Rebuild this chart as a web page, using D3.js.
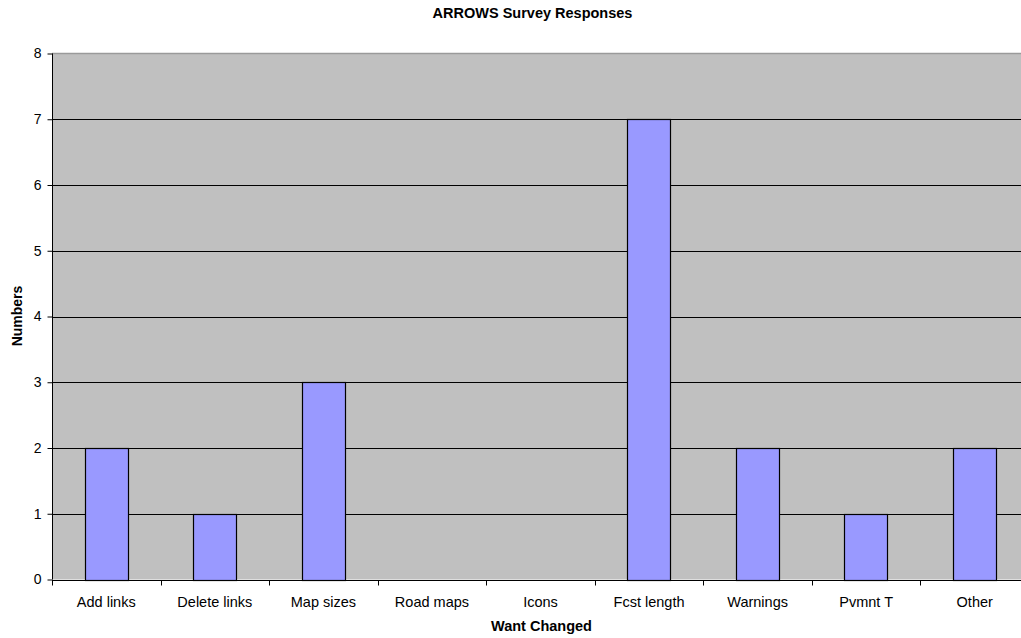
<!DOCTYPE html>
<html>
<head>
<meta charset="utf-8">
<script src="https://cdn.jsdelivr.net/npm/d3@7"></script>
<style>
  html, body { margin: 0; padding: 0; background: #fff; overflow: hidden; }
  svg { display: block; font-family: "Liberation Sans", Arial, sans-serif; }
</style>
</head>
<body>
<svg id="chart" width="1021" height="638"></svg>
<script>
// Survey responses: what users want changed
const categories = ["Add links", "Delete links", "Map sizes", "Road maps", "Icons", "Fcst length", "Warnings", "Pvmnt T", "Other"];
const counts = [2, 1, 3, 0, 0, 7, 2, 1, 2];
const yTicks = [0, 1, 2, 3, 4, 5, 6, 7, 8];

const svg = d3.select("#chart");
const plotLeft = 52, plotRight = 1029, plotTop = 53.5, plotBottom = 579.5;

const x = d3.scaleBand().domain(categories).range([plotLeft, plotRight]).paddingInner(0).paddingOuter(0);
const y = d3.scaleLinear().domain([0, 8]).range([plotBottom, plotTop]);

// plot background
svg.append("rect")
  .attr("x", plotLeft).attr("y", plotTop)
  .attr("width", plotRight - plotLeft).attr("height", plotBottom - plotTop)
  .attr("fill", "#c0c0c0");
svg.append("line")
  .attr("x1", plotLeft).attr("x2", plotRight).attr("y1", plotTop).attr("y2", plotTop)
  .attr("stroke", "#9a9a9a").attr("stroke-width", 1.5);

// horizontal gridlines
svg.append("g").selectAll("line")
  .data(yTicks.filter(d => d > 0 && d < 8))
  .join("line")
  .attr("x1", plotLeft).attr("x2", plotRight)
  .attr("y1", d => Math.round(y(d)) + 0.5).attr("y2", d => Math.round(y(d)) + 0.5)
  .attr("stroke", "#000").attr("stroke-width", 1);

// bars
const barW = x.bandwidth() * 0.4;
svg.append("g").selectAll("rect")
  .data(categories.map((c, i) => ({ c, v: counts[i] })).filter(d => d.v > 0))
  .join("rect")
  .attr("x", d => Math.round(x(d.c) + (x.bandwidth() - barW) / 2) + 0.5)
  .attr("y", d => Math.round(y(d.v)) + 0.5)
  .attr("width", Math.round(barW))
  .attr("height", d => Math.round(y(0)) - Math.round(y(d.v)))
  .attr("fill", "#9999ff")
  .attr("stroke", "#000").attr("stroke-width", 1.2);

// y axis
const yAxis = svg.append("g")
  .attr("transform", `translate(${plotLeft + 0.5},0)`)
  .call(d3.axisLeft(y).tickValues(yTicks).tickSize(5).tickPadding(6).tickFormat(d3.format("d")));
yAxis.select(".domain").attr("d", `M0,${plotTop}V${plotBottom}`).attr("stroke", "#000");
yAxis.selectAll("text").attr("font-size", 14).attr("fill", "#000").attr("font-family", "Liberation Sans, Arial, sans-serif");
yAxis.selectAll(".tick line").attr("stroke", "#000");

// x axis: baseline, boundary ticks between categories, centered labels
const xAxis = svg.append("g").attr("transform", `translate(0,${Math.round(plotBottom) + 0.5})`);
xAxis.append("line").attr("x1", plotLeft).attr("x2", plotRight).attr("stroke", "#000");
xAxis.selectAll(".bt")
  .data(categories)
  .join("line")
  .attr("class", "bt")
  .attr("x1", d => Math.round(x(d)) + 0.5).attr("x2", d => Math.round(x(d)) + 0.5)
  .attr("y1", 0).attr("y2", 5)
  .attr("stroke", "#000");
xAxis.selectAll("text")
  .data(categories)
  .join("text")
  .attr("x", d => x(d) + x.bandwidth() / 2)
  .attr("y", 26.5)
  .attr("text-anchor", "middle")
  .attr("font-size", 14.5)
  .attr("fill", "#000")
  .text(d => d);

// titles
svg.append("text")
  .attr("x", 532.5).attr("y", 18)
  .attr("text-anchor", "middle")
  .attr("font-size", 14.5).attr("font-weight", "bold")
  .text("ARROWS Survey Responses");
svg.append("text")
  .attr("x", 541.5).attr("y", 631)
  .attr("text-anchor", "middle")
  .attr("font-size", 14.5).attr("font-weight", "bold")
  .text("Want Changed");
svg.append("text")
  .attr("transform", `translate(22,316) rotate(-90)`)
  .attr("text-anchor", "middle")
  .attr("font-size", 14).attr("font-weight", "bold")
  .text("Numbers");
</script>
</body>
</html>
